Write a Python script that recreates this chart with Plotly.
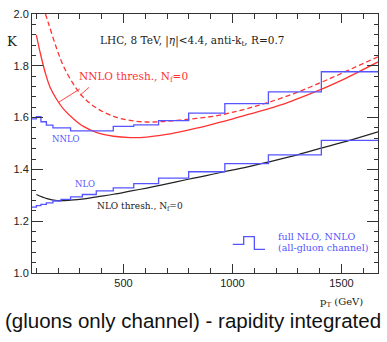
import plotly.graph_objects as go

# ---- data ----
# threshold-resummation curves (pT in GeV, K factor)
nnlo_thr_pt = [100, 118, 141, 164, 195, 225, 271, 316, 378, 454, 530, 607, 683, 759, 835,
               911, 988, 1072, 1160, 1250, 1330, 1407, 1490, 1568, 1668]
nnlo_thr_k = [1.918, 1.849, 1.773, 1.715, 1.668, 1.633, 1.595, 1.566, 1.542, 1.528, 1.523,
              1.525, 1.533, 1.545, 1.559, 1.575, 1.592, 1.612, 1.633, 1.657, 1.683, 1.709,
              1.740, 1.772, 1.815]

nnlo_thr2_pt = [130, 156, 195, 225, 271, 316, 378, 454, 530, 607, 683, 759, 835, 911, 988,
                1072, 1162, 1280, 1407, 1530, 1668]
nnlo_thr2_k = [2.03, 1.963, 1.862, 1.798, 1.728, 1.678, 1.636, 1.605, 1.589, 1.583, 1.585,
               1.590, 1.597, 1.605, 1.618, 1.636, 1.658, 1.692, 1.736, 1.782, 1.835]

nlo_thr_pt = [100, 149, 195, 256, 320, 378, 454, 530, 607, 683, 797, 880, 962, 1060, 1163,
              1280, 1407, 1537, 1668]
nlo_thr_k = [1.303, 1.287, 1.280, 1.281, 1.286, 1.294, 1.304, 1.316, 1.328, 1.341, 1.362,
             1.376, 1.391, 1.408, 1.428, 1.452, 1.482, 1.512, 1.545]

# full NLO / NNLO histograms (bin edges in GeV)
bin_edges = [80, 100, 121, 146, 176, 213, 257, 311, 375, 453, 547, 661, 799, 965, 1165, 1408, 1700]
nnlo_hist = [1.595, 1.604, 1.584, 1.571, 1.560, 1.560, 1.549, 1.549, 1.549, 1.566, 1.572,
             1.588, 1.617, 1.654, 1.699, 1.777]
nlo_hist = [1.254, 1.260, 1.265, 1.271, 1.278, 1.284, 1.294, 1.303, 1.317, 1.329, 1.345,
            1.366, 1.391, 1.422, 1.456, 1.512]

RED = "rgb(255,50,50)"
BLUE = "rgb(85,85,255)"
DARK = "#222222"
SERIF = "DejaVu Serif"

fig = go.Figure()
fig.add_trace(go.Scatter(x=nnlo_thr_pt, y=nnlo_thr_k, mode="lines", line=dict(color=RED, width=1.3),
                         line_shape="spline", showlegend=False))
fig.add_trace(go.Scatter(x=nnlo_thr2_pt, y=nnlo_thr2_k, mode="lines",
                         line=dict(color=RED, width=1.3, dash="5px,3px"),
                         line_shape="spline", showlegend=False))
fig.add_trace(go.Scatter(x=nlo_thr_pt, y=nlo_thr_k, mode="lines", line=dict(color=DARK, width=1.2),
                         line_shape="spline", showlegend=False))
fig.add_trace(go.Scatter(x=bin_edges, y=nnlo_hist + [nnlo_hist[-1]], mode="lines",
                         line=dict(color=BLUE, width=1.3, shape="hv"), showlegend=False))
fig.add_trace(go.Scatter(x=bin_edges, y=nlo_hist + [nlo_hist[-1]], mode="lines",
                         line=dict(color=BLUE, width=1.3, shape="hv"), showlegend=False))

L, R, T, B = 32, 8, 10, 69
W, H = 387, 342
PW, PH = W - L - R, H - T - B


def px(x):
    return (x - L) / PW


def py(y):
    return (H - B - y) / PH


ann = []


def add(text, x, y, size, color, xanchor="left", font=SERIF):
    ann.append(dict(text=text, x=px(x), y=py(y), xref="paper", yref="paper", showarrow=False,
                    xanchor=xanchor, yanchor="middle", font=dict(family=font, size=size, color=color)))


add("LHC, 8 TeV, |<i>η</i>|&lt;4.4, anti-k<sub>t</sub>, R=0.7", 98, 37, 10.5, DARK)
add("NNLO thresh., N<sub>f</sub>=0", 77.5, 74, 10.5, RED)
add("NNLO", 66.5, 137, 8.5, BLUE, "center")
add("NLO", 85, 183, 8.5, BLUE, "center")
add("NLO thresh., N<sub>f</sub>=0", 95.5, 205.5, 9, DARK)
add("full NLO, NNLO", 276.5, 236, 9.5, BLUE)
add("(all-gluon channel)", 276.5, 247, 9.5, BLUE)
add("K", 12, 38, 13, DARK, "center")
add("p<sub>T</sub> (GeV)", 342, 302.5, 10, DARK, "center")
add("(gluons only channel) - rapidity integrated", 193.5, 321, 20.5, "#111111", "center",
    font="Liberation Sans")

shapes = [
    dict(type="line", xref="x", yref="y", x0=300, y0=1.711, x1=200, y1=1.658,
         line=dict(color=RED, width=0.9)),
    dict(type="line", xref="x", yref="y", x0=342, y0=1.717, x1=300, y1=1.686,
         line=dict(color=RED, width=0.9)),
    dict(type="path", xref="paper", yref="paper",
         path=f"M{px(233.3)},{py(244)} H{px(244.3)} V{py(236)} H{px(255)} V{py(249)} H{px(265.7)}",
         line=dict(color=BLUE, width=1.3)),
]

fig.update_layout(
    width=W, height=H, margin=dict(l=L, r=R, t=T, b=B, pad=0),
    paper_bgcolor="white", plot_bgcolor="white",
    annotations=ann, shapes=shapes, showlegend=False,
    font=dict(family="Liberation Sans", size=11, color=DARK),
)
fig.update_xaxes(range=[80, 1668], tickmode="linear", tick0=0, dtick=500,
                 ticks="inside", ticklen=9, tickwidth=1, tickcolor="#333",
                 showline=True, linecolor="#333", linewidth=1, mirror="ticks",
                 showgrid=False, zeroline=False,
                 tickfont=dict(family="Liberation Sans", size=11, color=DARK),
                 minor=dict(dtick=100, tick0=0, ticks="inside", ticklen=5, tickcolor="#333",
                            showgrid=False))
fig.update_yaxes(range=[1.0, 2.0], tickmode="linear", tick0=0, dtick=0.2, tickformat=".1f",
                 ticks="inside", ticklen=11, tickwidth=1, tickcolor="#333",
                 showline=True, linecolor="#333", linewidth=1, mirror="ticks",
                 showgrid=False, zeroline=False,
                 tickfont=dict(family="Liberation Sans", size=11, color=DARK),
                 minor=dict(dtick=0.04, tick0=0, ticks="inside", ticklen=4, tickcolor="#333",
                            showgrid=False))

fig.write_html("out.html", config={"displayModeBar": False},
               post_script="document.body.style.margin='0px';")
